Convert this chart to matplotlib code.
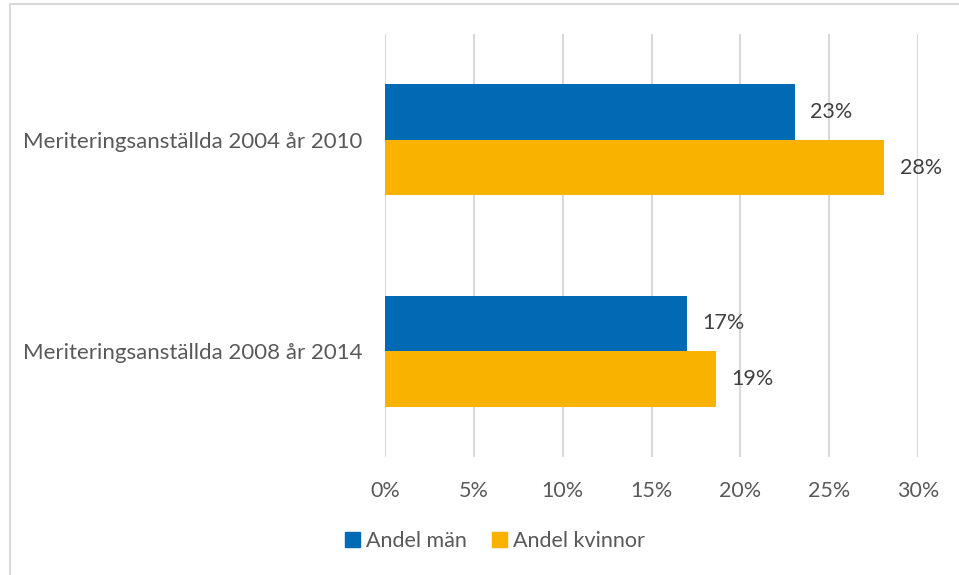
import matplotlib
matplotlib.use("Agg")
import matplotlib.pyplot as plt
from matplotlib.lines import Line2D
from matplotlib.patches import Patch
import numpy as np

# data
categories = ["Meriteringsanställda 2004 år 2010", "Meriteringsanställda 2008 år 2014"]
andel_man = [23.07, 17.0]
andel_kvinnor = [28.1, 18.65]
series_names = ["Andel män", "Andel kvinnor"]
xticks = [0, 5, 10, 15, 20, 25, 30]

c_blue = "#006BB4"
c_orange = "#F9B200"
c_text = "#595959"
c_grid = "#D9D9D9"
fs = 15.5

plt.rcParams['font.family'] = ['Lato', 'DejaVu Sans']

fig = plt.figure(figsize=(9.59, 5.75), dpi=100)
ax = fig.add_axes([385/959, 1-457/575, 533/959, 423/575])

y = np.arange(len(categories))
h = 0.2625
ax.barh(y - h/2, andel_man, height=h, color=c_blue, zorder=3)
ax.barh(y + h/2, andel_kvinnor, height=h, color=c_orange, zorder=3)

for i in range(len(categories)):
    ax.annotate(f"{round(andel_man[i])}%", (andel_man[i], y[i] - h/2), xytext=(11, 0),
                textcoords="offset points", va="center", ha="left", fontsize=fs, color="#404040")
    ax.annotate(f"{round(andel_kvinnor[i])}%", (andel_kvinnor[i], y[i] + h/2), xytext=(11, 0),
                textcoords="offset points", va="center", ha="left", fontsize=fs, color="#404040")

ax.set_xlim(0, 30)
ax.set_ylim(1.5, -0.5)
ax.set_xticks(xticks)
ax.set_xticklabels([f"{t}%" for t in xticks])
ax.set_yticks(y)
ax.set_yticklabels(categories)
ax.tick_params(axis='x', length=0, pad=17, labelsize=fs, colors=c_text)
ax.tick_params(axis='y', length=0, pad=16.5, labelsize=16, colors=c_text)
ax.grid(axis='x', color=c_grid, linewidth=1.5, zorder=0)
for s in ax.spines.values():
    s.set_visible(False)

handles = [Patch(color=c_blue), Patch(color=c_orange)]
fig.legend(handles, series_names, loc="center", bbox_to_anchor=(495/959, 1-541/575),
           ncol=2, frameon=False, fontsize=fs, handlelength=0.7, handleheight=0.7,
           handletextpad=0.25, columnspacing=1.2, labelcolor=c_text)

# frame of the chart box
fig.add_artist(Line2D([10/959, 1], [1-4/575, 1-4/575], color=c_grid, linewidth=1.5))
fig.add_artist(Line2D([10/959, 10/959], [0, 1-4/575], color=c_grid, linewidth=1.5))

fig.savefig("out.png", dpi=100)
